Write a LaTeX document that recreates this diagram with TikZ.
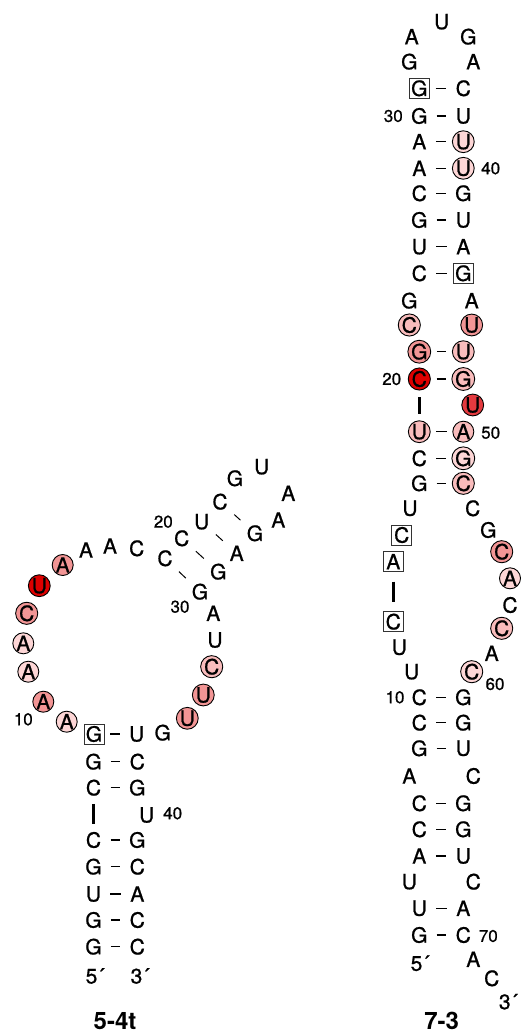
\documentclass[tikz,border=0pt]{standalone}
\usepackage{fontspec}
\setmainfont{TeX Gyre Heros}
\newfontfamily\ntfamily{TeX Gyre Heros}[FakeBold=0.8]
\usepackage{tikz}
\definecolor{pinkA}{HTML}{FDD6D6}
\definecolor{pinkB}{HTML}{F9BCBC}
\definecolor{pinkC}{HTML}{F29595}
\definecolor{redD}{HTML}{E43A3F}
\definecolor{redE}{HTML}{DD0000}
\newcommand\basefont{\ntfamily\fontsize{21}{21}\selectfont}
\newcommand\numfont{\ntfamily\fontsize{17}{17}\selectfont}
\newcommand\titlefont{\fontsize{24}{24}\selectfont\bfseries}
\tikzset{
  base/.style={circle, inner sep=0pt, minimum size=21pt, font=\basefont},
  hl/.style={base, draw=black, line width=0.9pt, fill=#1},
  boxed/.style={base, rectangle, draw=black!80, line width=0.8pt, minimum size=20pt},
  num/.style={inner sep=0pt, font=\numfont},
  title/.style={inner sep=0pt, font=\titlefont},
  pair/.style={line width=1.3pt, shorten <=5.8pt, shorten >=5.8pt},
  bar/.style={line width=2.6pt, shorten <=#1, shorten >=#1},
  tick/.style={line width=1pt, shorten <=8pt, shorten >=8pt},
}
\begin{document}
\begin{tikzpicture}[x=1pt,y=-1pt]
\useasboundingbox (0,0) rectangle (523,1035);

% ---- 5-4t
\foreach \n/\x/\y/\t in {1/93.5/946.7/G, 2/93.5/920/G, 3/93.5/894/U, 4/93.5/866.7/G,
    5/93.5/840/C, 6/93.5/787.7/C, 7/93.5/761.7/G,
    16/86/550/A, 17/110/546/A, 18/136.7/548.3/C, 19/165/558.3/C, 20/181.7/538.3/C,
    21/201.7/521.7/U, 22/220/501.7/C, 23/235/478.3/G, 24/261.7/466.7/U, 25/288.3/493.3/A,
    26/278.3/520/A, 27/255/533.3/G, 28/236.7/553.3/A, 29/218.3/571.7/G, 30/200/591.7/G,
    31/213.3/613.3/A, 32/215/640/U, 36/162.7/732.7/G, 37/136.7/734/U,
    38/137.3/761.7/C, 39/137.3/787.7/G, 40/146.7/815/U, 41/137.3/840/G,
    42/137.3/866.7/C, 43/137.3/894/A, 44/137.3/920/C, 45/137.3/946.7/C}
  \node[base] (f\n) at (\x,\y) {\t};
\foreach \n/\x/\y/\t/\c in {9/66.7/721.7/A/pinkA, 10/43.3/701.7/A/pinkC,
    11/28.3/671.7/A/pinkA, 12/23.3/643.3/A/pinkA, 13/26.7/613.3/C/pinkC,
    14/39.3/585.7/U/redE, 15/62.7/565/A/pinkC,
    33/211.7/666.7/C/pinkB, 34/203.3/695/U/pinkC, 35/187.3/718.3/U/pinkC}
  \node[hl=\c] (f\n) at (\x,\y) {\t};
\node[boxed] (f8) at (94,734) {G};

\foreach \a/\b in {8/37, 7/38, 6/39, 5/41, 4/42, 3/43, 2/44, 1/45}
  \draw[pair] (f\a) -- (f\b);
\draw[bar=5pt] (f6) -- (f5);
\foreach \a/\b in {22/27, 21/28, 20/29, 19/30}
  \draw[tick] (f\a) -- (f\b);

\node[num] (f10n) at (23.3,719.3) {10};
\node[num] (f20n) at (163.3,521.7) {20};
\node[num] (f30n) at (180,606.7) {30};
\node[num] (f40n) at (172.7,813.3) {40};
\node[base] (f5p) at (95,976) {5´};
\node[base] (f3p) at (140,976) {3´};
\node[title] (ftitle) at (115,1021) {5-4t};

% ---- 7-3
\foreach \n/\x/\y/\t in {1/419.3/935/G, 2/419.3/908.3/U, 3/409.3/881.7/U, 4/419.3/856/A,
    5/419.3/829.3/C, 6/419.3/803.3/C, 7/409.3/776/A, 8/419.3/748.3/G, 9/419.3/722.7/C,
    10/419.3/697.3/C, 11/411.7/671.7/U, 12/399.3/647.3/U, 16/410/508.3/U,
    17/419.3/483.3/G, 18/419.3/458.3/C, 23/409.3/300.7/G, 24/419.3/273.3/C,
    25/419.3/246.7/U, 26/419.3/220/G, 27/419.3/193.3/C, 28/419.3/168.3/A,
    29/419.3/141.7/A, 30/419.3/116/G, 32/409.3/61.7/G, 33/411.7/36.7/A,
    34/441.7/21.7/U, 35/468.3/36.7/G, 36/473.3/61.7/A, 37/463.3/88.3/C,
    38/463.3/116/U, 41/463.3/193.3/G, 42/463.3/220/U, 43/463.3/246.7/A,
    45/471.7/300.7/A, 53/472.7/508.3/C, 54/488.3/530/G, 57/510/605/C,
    59/491.7/653.3/A, 61/463.3/697.3/G, 62/463.3/722.7/G, 63/463.3/748.3/U,
    64/473.3/776/C, 65/463.3/803.3/G, 66/463.3/829.3/G, 67/463.3/856/U,
    68/473.3/881.7/C, 69/463.3/908.3/A, 70/463.3/935/C, 71/473.3/959.3/A,
    72/491.7/978.3/C}
  \node[base] (s\n) at (\x,\y) {\t};
\foreach \n/\x/\y/\t/\c in {19/419.3/431.7/U/pinkB, 20/419.3/379/C/redE,
    21/419.3/351.7/G/pinkC, 22/409.3/325/C/pinkB, 39/463.3/141.7/U/pinkA,
    40/463.3/168.3/U/pinkA, 46/471.7/325/U/pinkC, 47/463.3/351.7/U/pinkB,
    48/463.3/379/G/pinkB, 49/472.7/405/U/redD, 50/463.3/431.7/A/pinkB,
    51/463.3/458.3/G/pinkA, 52/463.3/483.3/C/pinkB, 55/501.7/551.7/C/pinkC,
    56/510/578.3/A/pinkA, 58/501.7/628.3/C/pinkB, 60/471.7/671.7/C/pinkA}
  \node[hl=\c] (s\n) at (\x,\y) {\t};
\foreach \n/\x/\y/\t in {13/393.3/621.7/C, 14/393.3/561.7/A, 15/401.7/535/C,
    31/419.3/88.3/G, 44/463.3/273.3/G}
  \node[boxed] (s\n) at (\x,\y) {\t};

\foreach \a/\b in {10/61, 9/62, 8/63, 6/65, 5/66, 4/67, 2/69, 1/70,
    17/52, 18/51, 19/50, 20/48, 21/47,
    24/44, 25/43, 26/42, 27/41, 28/40, 29/39, 30/38, 31/37}
  \draw[pair] (s\a) -- (s\b);
\draw[bar=6.5pt] (s20) -- (s19);
\draw[bar=9.5pt] (s14) -- (s13);

\node[num] (s10n) at (395,697.3) {10};
\node[num] (s20n) at (391.7,379) {20};
\node[num] (s30n) at (393.3,116) {30};
\node[num] (s40n) at (490.7,168.3) {40};
\node[num] (s50n) at (490.7,432.7) {50};
\node[num] (s60n) at (495,684) {60};
\node[num] (s70n) at (488.3,936) {70};
\node[base] (s5p) at (420,963.3) {5´};
\node[base] (s3p) at (508.3,1001.7) {3´};
\node[title] (stitle) at (441.7,1021) {7-3};
\end{tikzpicture}
\end{document}
